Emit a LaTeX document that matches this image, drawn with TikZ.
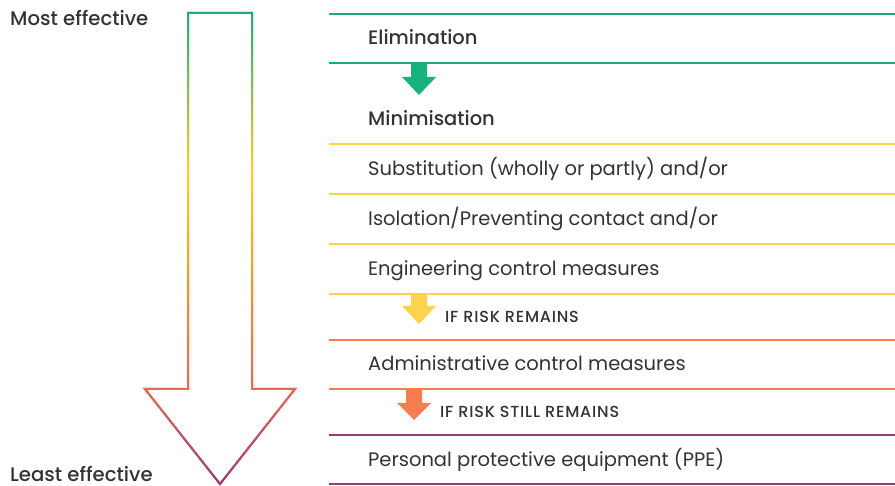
\documentclass[tikz,border=0pt]{standalone}
\usepackage{fontspec}
\setmainfont{Poppins}[BoldFont={Poppins Medium}]
\definecolor{cgreen}{RGB}{29,170,122}
\definecolor{cgreenarr}{RGB}{23,178,124}
\definecolor{cyellow}{RGB}{255,207,45}
\definecolor{cyellowline}{RGB}{255,211,78}
\definecolor{corange}{RGB}{245,145,40}
\definecolor{ccoral}{RGB}{226,108,84}
\definecolor{corangeline}{RGB}{244,126,82}
\definecolor{cpurple}{RGB}{152,60,125}
\definecolor{ctext}{RGB}{51,51,51}
\newcommand\bigarrowpath{(188,13) -- (252,13) -- (252,389) -- (295,389) -- (220,484) -- (145,389) -- (188,389) -- cycle}
\newcommand\gradseg[4]{%
  \pgfmathtruncatemacro\ysecond{#1+2}%
  \foreach \yy in {#1,\ysecond,...,#2} {%
    \pgfmathsetmacro\pp{max(0,min(100,100*(#2-\yy)/(#2-#1)))}%
    \begin{scope}
      \clip (0,\yy-0.3) rectangle (400,\yy+2.3);
      \draw[line width=2pt, draw={#3!\pp!#4}] \bigarrowpath;
    \end{scope}
  }%
}
\newcommand\riskarrow[6]{% fill colour, centre x, top y, head y, tip y, name
  \fill[#1] (#2-8,#3) -- (#2+8,#3) -- (#2+8,#4) -- (#2+17,#4) -- (#2,#5) -- (#2-17,#4) -- (#2-8,#4) -- cycle;
}
\tikzset{
  rowtext/.style={anchor=base west, inner sep=0pt, text=ctext, font=\fontsize{19.5}{22}\selectfont},
  headtext/.style={rowtext, font=\fontsize{19.5}{22}\selectfont\bfseries},
  sidetext/.style={rowtext, font=\fontsize{19.7}{22}\selectfont\bfseries},
  risktext/.style={rowtext, font=\fontsize{16}{18}\selectfont\bfseries\addfontfeature{LetterSpace=5}},
  thickrule/.style={line width=2.5pt},
  thinrule/.style={line width=1.3pt},
}
\begin{document}
\begin{tikzpicture}[x=1pt,y=-1pt]
\useasboundingbox[fill=white] (0,0) rectangle (895,486);
% gradient outline arrow
\gradseg{10}{173}{cgreen}{cyellow}
\gradseg{172}{290}{cyellow}{corange}
\gradseg{290}{390}{corange}{ccoral}
\gradseg{390}{486}{ccoral}{cpurple}
% rules
\draw[thickrule, cgreen] (329,14) -- (895,14);
\draw[thickrule, cgreen] (329,63) -- (895,63);
\draw[thickrule, cyellowline] (329,144) -- (895,144);
\draw[thinrule, cyellowline] (329,194) -- (895,194);
\draw[thinrule, cyellowline] (329,244) -- (895,244);
\draw[thickrule, cyellowline] (329,294) -- (895,294);
\draw[thickrule, corangeline] (329,340) -- (895,340);
\draw[thickrule, corangeline] (329,389) -- (895,389);
\draw[thickrule, cpurple] (329,435) -- (895,435);
\draw[thickrule, cpurple] (329,484) -- (895,484);
% small arrows
\riskarrow{cgreenarr}{419}{64}{77}{95}{a1}
\riskarrow{cyellowline}{419}{295}{306}{324}{a2}
\riskarrow{corangeline}{414}{390}{403}{420}{a3}
% texts
\node[sidetext] (most) at (10,26) {Most effective};
\node[sidetext] (least) at (10,482) {Least effective};
\node[headtext] (elim) at (368,45) {Elimination};
\node[headtext] (mini) at (368,126) {Minimisation};
\node[rowtext] (subs) at (368,176) {Substitution (wholly or partly) and/or};
\node[rowtext] (isol) at (368,226) {Isolation/Preventing contact and/or};
\node[rowtext] (engi) at (368,276) {Engineering control measures};
\node[risktext] (risk1) at (445,323) {IF RISK REMAINS};
\node[rowtext] (admi) at (368,371) {Administrative control measures};
\node[risktext] (risk2) at (440,418) {IF RISK STILL REMAINS};
\node[rowtext] (ppe) at (368,466) {Personal protective equipment (PPE)};
\end{tikzpicture}
\end{document}
